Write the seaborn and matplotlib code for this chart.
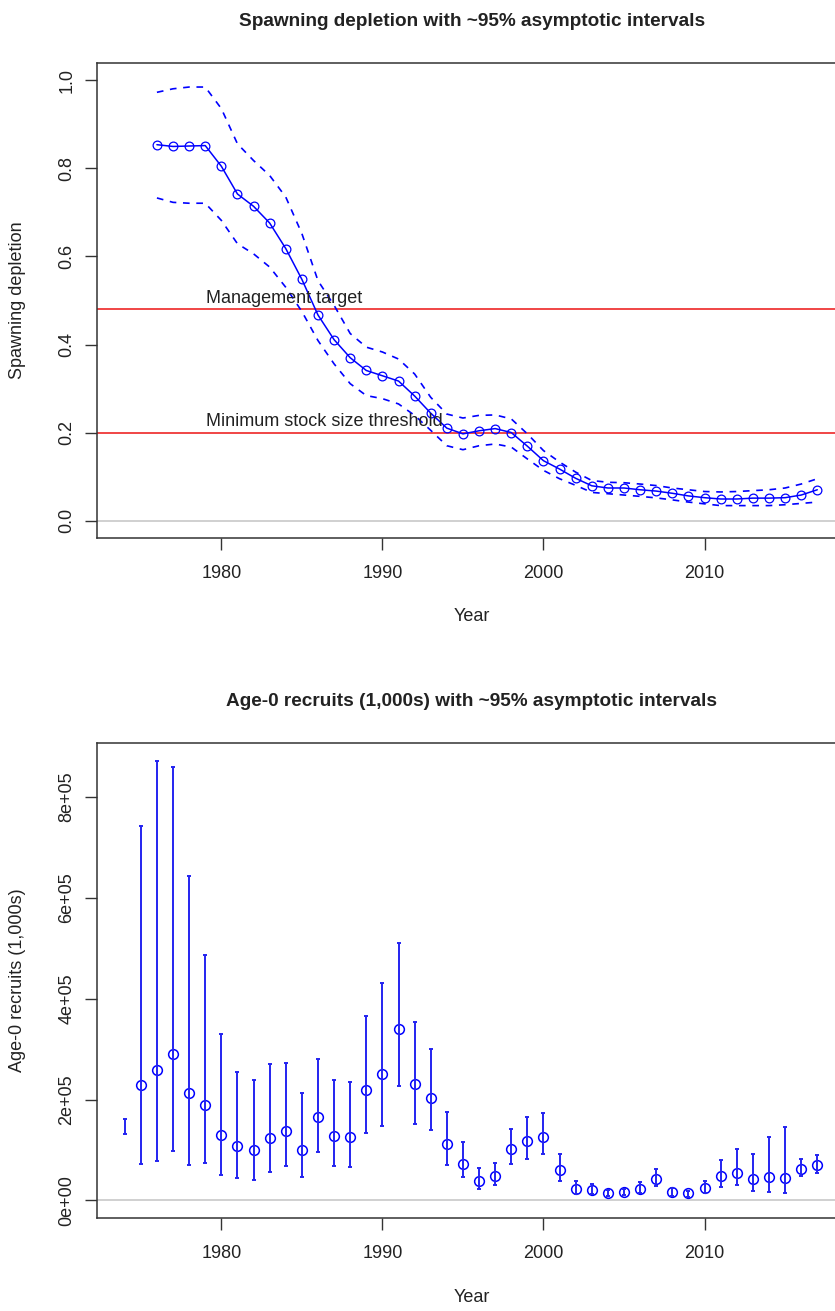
import numpy as np
import pandas as pd
import matplotlib
matplotlib.use("Agg")
import matplotlib.pyplot as plt
import seaborn as sns

# spawning depletion, 1976-2017
sd_years = list(range(1976, 2018))
depl = [0.854, 0.850, 0.851, 0.852, 0.805, 0.742, 0.714, 0.676, 0.618, 0.548,
        0.467, 0.411, 0.370, 0.341, 0.329, 0.317, 0.283, 0.244, 0.210, 0.197,
        0.204, 0.209, 0.200, 0.169, 0.136, 0.117, 0.096, 0.079, 0.074, 0.074,
        0.070, 0.067, 0.062, 0.056, 0.052, 0.049, 0.049, 0.051, 0.051, 0.052,
        0.058, 0.070]
depl_hi = [0.973, 0.981, 0.985, 0.985, 0.936, 0.856, 0.818, 0.784, 0.735, 0.652,
           0.545, 0.489, 0.425, 0.394, 0.383, 0.367, 0.333, 0.280, 0.242, 0.233,
           0.239, 0.240, 0.231, 0.197, 0.159, 0.133, 0.110, 0.091, 0.087, 0.086,
           0.083, 0.0795, 0.074, 0.070, 0.066, 0.065, 0.066, 0.068, 0.070, 0.074,
           0.083, 0.095]
depl_lo = [0.733, 0.723, 0.721, 0.721, 0.682, 0.629, 0.606, 0.576, 0.530, 0.475,
           0.409, 0.356, 0.311, 0.284, 0.277, 0.265, 0.239, 0.205, 0.170, 0.161,
           0.170, 0.174, 0.167, 0.140, 0.114, 0.095, 0.080, 0.064, 0.061, 0.058,
           0.055, 0.0515, 0.047, 0.042, 0.038, 0.034, 0.034, 0.034, 0.034, 0.036,
           0.039, 0.042]
mgmt_target = 0.48
msst = 0.2

# age-0 recruits (1,000s), 1974-2017, in units of 1e5
rec_years = list(range(1974, 2018))
rec = [np.nan, 2.296, 2.592, 2.90, 2.125, 1.888, 1.296, 1.072, 1.007, 1.244,
       1.368, 0.993, 1.645, 1.276, 1.256, 2.197, 2.513, 3.40, 2.302, 2.033,
       1.118, 0.73, 0.387, 0.486, 1.013, 1.171, 1.256, 0.604, 0.223, 0.203,
       0.138, 0.158, 0.223, 0.42, 0.158, 0.138, 0.237, 0.474, 0.553, 0.42,
       0.46, 0.454, 0.632, 0.697]
rec_lo = [1.315, 0.723, 0.776, 0.987, 0.71, 0.75, 0.513, 0.447, 0.414, 0.565,
          0.683, 0.46, 0.96, 0.683, 0.664, 1.335, 1.48, 2.27, 1.513, 1.394,
          0.71, 0.466, 0.223, 0.302, 0.73, 0.829, 0.914, 0.387, 0.124, 0.124,
          0.079, 0.099, 0.144, 0.276, 0.079, 0.065, 0.144, 0.257, 0.302, 0.19,
          0.17, 0.144, 0.486, 0.539]
rec_hi = [1.605, 7.43, 8.72, 8.59, 6.44, 4.86, 3.30, 2.553, 2.381, 2.711,
          2.73, 2.125, 2.80, 2.381, 2.342, 3.665, 4.31, 5.106, 3.546, 2.993,
          1.75, 1.151, 0.651, 0.75, 1.42, 1.658, 1.737, 0.914, 0.387, 0.322,
          0.209, 0.223, 0.355, 0.618, 0.237, 0.19, 0.387, 0.802, 1.013, 0.914,
          1.264, 1.461, 0.815, 0.894]

sns.set_style("white")
plt.rcParams['font.family'] = ['Liberation Sans', 'DejaVu Sans']

BLUE = '#0000ff'
BAR_BLUE = '#2424f0'
RED = '#f04545'
GREY = '#c8c8c8'
SPINE = '#333333'

sd = pd.DataFrame({'year': sd_years, 'depl': depl, 'lo': depl_lo, 'hi': depl_hi})
rc = pd.DataFrame({'year': rec_years, 'rec': np.array(rec) * 1e5,
                   'lo': np.array(rec_lo) * 1e5, 'hi': np.array(rec_hi) * 1e5})

W, H = 835, 1311
fig = plt.figure(figsize=(W / 100, H / 100), dpi=100)
fig.patch.set_facecolor('white')

def px_axes(left, top, right, bottom):
    return fig.add_axes([left / W, 1 - bottom / H, (right - left) / W, (bottom - top) / H])

ax1 = px_axes(97, 63, 845, 538)
ax2 = px_axes(97, 743, 845, 1218)

def style_axes(ax):
    for s in ax.spines.values():
        s.set_color(SPINE)
        s.set_linewidth(1.1)
    ax.tick_params(axis='both', direction='out', length=8.5, width=1.0, color=SPINE,
                   labelsize=13, labelcolor='#222222', left=True, bottom=True)
    ax.tick_params(axis='x', pad=11)
    ax.tick_params(axis='y', pad=7)
    for lab in ax.get_yticklabels():
        lab.set_rotation(90)
        lab.set_va('center')
    ax.set_xlim(1972.28, 2018.72)
    ax.set_xticks([1980, 1990, 2000, 2010])

# --- top: spawning depletion ---
ax1.axhline(0, color=GREY, lw=1.2, zorder=1)
ax1.axhline(mgmt_target, color=RED, lw=1.4, zorder=1)
ax1.axhline(msst, color=RED, lw=1.4, zorder=1)
sns.lineplot(data=sd, x='year', y='hi', ax=ax1, color=BLUE, lw=1.2,
             linestyle=(0, (4, 4)), zorder=3)
sns.lineplot(data=sd, x='year', y='lo', ax=ax1, color=BLUE, lw=1.2,
             linestyle=(0, (4, 4)), zorder=3)
sns.lineplot(data=sd, x='year', y='depl', ax=ax1, color=BLUE, lw=1.1, marker='o',
             markersize=6.3, markerfacecolor='none', markeredgecolor=BLUE,
             markeredgewidth=0.9, zorder=4)
ax1.text(1979.05, mgmt_target + 0.015, 'Management target', fontsize=13,
         color='#222222', va='baseline', ha='left', zorder=5)
ax1.text(1979.05, msst + 0.015, 'Minimum stock size threshold', fontsize=13,
         color='#222222', va='baseline', ha='left', zorder=5)
ax1.set_ylim(-0.0396, 1.0396)
ax1.set_yticks([0, 0.2, 0.4, 0.6, 0.8, 1.0])
ax1.set_yticklabels([f'{v:.1f}' for v in [0, 0.2, 0.4, 0.6, 0.8, 1.0]])
ax1.set_xlabel('Year', fontsize=13, color='#222222')
ax1.set_ylabel('Spawning depletion', fontsize=13, color='#222222')
style_axes(ax1)

# --- bottom: recruits ---
ax2.axhline(0, color=GREY, lw=1.2, zorder=1)
ax2.vlines(rc['year'], rc['lo'], rc['hi'], color=BAR_BLUE, lw=1.4, zorder=4)
ax2.plot(rc['year'], rc['lo'], ls='none', marker='_', ms=3.5, mew=1.4, color=BAR_BLUE, zorder=4)
ax2.plot(rc['year'], rc['hi'], ls='none', marker='_', ms=3.5, mew=1.4, color=BAR_BLUE, zorder=4)
sns.lineplot(data=rc, x='year', y='rec', ax=ax2, linestyle='none', marker='o',
             markersize=7, markerfacecolor='none', markeredgecolor=BLUE,
             markeredgewidth=1.1, zorder=3)
ax2.set_ylim(-0.349e5, 9.07e5)
yt = [0, 2e5, 4e5, 6e5, 8e5]
ax2.set_yticks(yt)
ax2.set_yticklabels([f'{v:.0e}' for v in yt])
ax2.set_xlabel('Year', fontsize=13, color='#222222')
ax2.set_ylabel('Age-0 recruits (1,000s)', fontsize=13, color='#222222')
style_axes(ax2)

for ax, ypx in [(ax1, 617), (ax2, 1298)]:
    bb = ax.get_position()
    ax.xaxis.set_label_coords((472 / W - bb.x0) / bb.width, (1 - ypx / H - bb.y0) / bb.height)
    ax.xaxis.label.set_va('center')
    ax.yaxis.set_label_coords((18 / W - bb.x0) / bb.width, 0.5)
    ax.yaxis.label.set_va('center')

fig.text(472 / W, 1 - 21 / H, 'Spawning depletion with ~95% asymptotic intervals',
         ha='center', va='center', fontsize=13.7, fontweight='bold', color='#222222')
fig.text(472 / W, 1 - 701 / H, 'Age-0 recruits (1,000s) with ~95% asymptotic intervals',
         ha='center', va='center', fontsize=13.7, fontweight='bold', color='#222222')

fig.savefig('out.png', dpi=100, facecolor='white')
